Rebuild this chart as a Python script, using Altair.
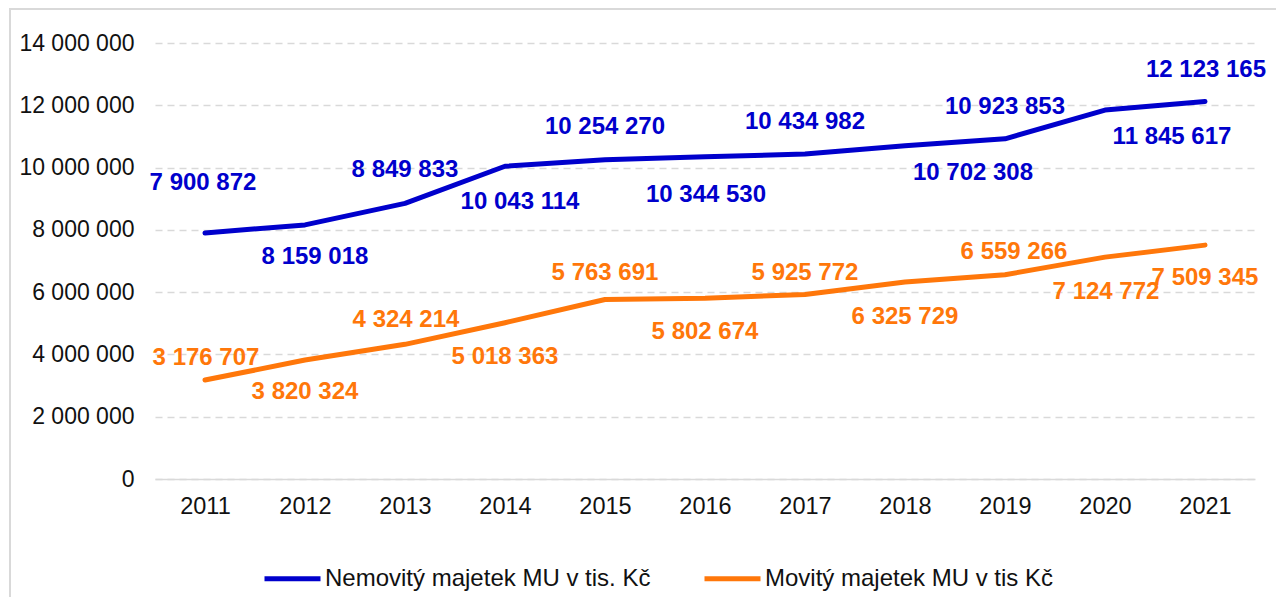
import altair as alt
import pandas as pd

# ---- data -------------------------------------------------------------
years = ["2011", "2012", "2013", "2014", "2015", "2016", "2017", "2018", "2019", "2020", "2021"]
nemovity = [7900872, 8159018, 8849833, 10043114, 10254270, 10344530,
            10434982, 10702308, 10923853, 11845617, 12123165]
movity = [3176707, 3820324, 4324214, 5018363, 5763691, 5802674,
          5925772, 6325729, 6559266, 7124772, 7509345]
series_names = ["Nemovitý majetek MU v tis. Kč", "Movitý majetek MU v tis Kč"]
y_ticks = [0, 2000000, 4000000, 6000000, 8000000, 10000000, 12000000, 14000000]

# ---- style ------------------------------------------------------------
colors = ["#0000CC", "#FF770A"]
FONT = "Liberation Sans"
# data-label nudges (dx, dy) in pixels for each year, per series
label_nudge = {
    series_names[0]: [(-2, -50), (10, 32), (0, -33), (15, 36), (0, -33), (1, 38),
                      (0, -32), (68, 27), (0, -32), (67, 27), (1, -31)],
    series_names[1]: [(1, -22), (0, 32), (1, -24), (0, 34), (0, -27), (0, 34),
                      (0, -21), (0, 35), (9, -23), (1, 35), (0, 33)],
}

rows = []
for name, vals in zip(series_names, [nemovity, movity]):
    for i, (yr, v) in enumerate(zip(years, vals)):
        rows.append({"year": yr, "series": name, "value": v, "idx": i,
                     "label": f"{v:,}".replace(",", " ")})
df = pd.DataFrame(rows)

x_enc = alt.X("year:O", sort=years,
              scale=alt.Scale(type="point", padding=0.5),
              axis=alt.Axis(title=None, labelAngle=0, ticks=False, grid=False,
                            domain=True, domainColor="#D9D9D9", domainWidth=1.5,
                            labelFont=FONT, labelFontSize=23.5, labelColor="#111111",
                            labelPadding=15))
y_enc = alt.Y("value:Q", scale=alt.Scale(domain=[0, 14000000], nice=False),
              axis=alt.Axis(title=None, values=y_ticks, domain=False, ticks=False,
                            grid=True, gridDash=[7, 5], gridColor="#D9D9D9",
                            gridWidth=1.5, labelFont=FONT, labelFontSize=23,
                            labelColor="#111111", labelPadding=21,
                            labelExpr="replace(format(datum.value, ','), regexp(',', 'g'), ' ')"))

base = alt.Chart(df)

lines = base.mark_line(strokeWidth=5, strokeCap="round", strokeJoin="round").encode(
    x=x_enc,
    y=y_enc,
    color=alt.Color("series:N", sort=series_names,
                    scale=alt.Scale(domain=series_names, range=colors),
                    legend=alt.Legend(title=None, orient="none", direction="horizontal",
                                      legendX=107, legendY=505,
                                      symbolType="stroke", symbolSize=3136,
                                      symbolStrokeWidth=5, columnPadding=43,
                                      labelOffset=2, labelFont=FONT, labelFontSize=24,
                                      labelColor="#111111", labelLimit=600)),
)

layers = [lines]
for name, col in zip(series_names, colors):
    for i, (dx, dy) in enumerate(label_nudge[name]):
        t = base.transform_filter(
            (alt.datum.series == name) & (alt.datum.idx == i)
        ).mark_text(font=FONT, fontSize=24, fontWeight="bold", color=col,
                    align="center", baseline="middle", dx=dx, dy=dy).encode(
            x=alt.X("year:O", sort=years), y=alt.Y("value:Q"), text="label:N")
        layers.append(t)

border = alt.Chart(pd.DataFrame({"b": [0]})).mark_rect(
    filled=False, stroke="#D9D9D9", strokeWidth=2).encode(
    x=alt.value(-145), x2=alt.value(1140), y=alt.value(-34), y2=alt.value(620))

chart = alt.layer(border, *layers).properties(
    width=1100, height=436,
    padding={"left": 147, "top": 35, "right": 21, "bottom": 118},
    autosize=alt.AutoSizeParams(type="none"),
    background="white",
).configure_view(strokeWidth=0)

chart.save("out.html", embed_options={"renderer": "svg", "actions": False})
